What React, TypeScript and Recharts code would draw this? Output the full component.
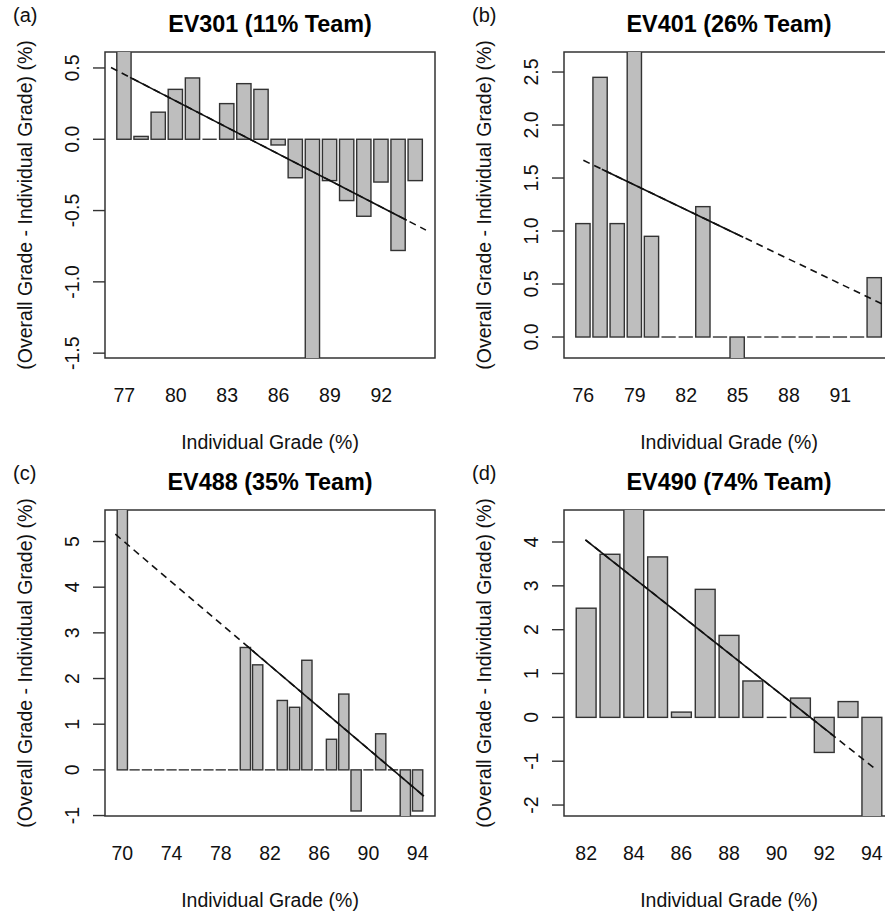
import { ComposedChart, Bar, XAxis, YAxis, ReferenceLine, ReferenceArea } from 'recharts';

// Grade categories and (overall - individual) differences
const gradesA = [77, 78, 79, 80, 81, 82, 83, 84, 85, 86, 87, 88, 89, 90, 91, 92, 93, 94];
const diffA = [0.75, 0.02, 0.19, 0.35, 0.43, 0, 0.25, 0.39, 0.35, -0.04, -0.27, -1.7, -0.29, -0.43, -0.54, -0.3, -0.78, -0.29];
const xTicksA = [77, 80, 83, 86, 89, 92];
const yTicksA = [-1.5, -1, -0.5, 0, 0.5];

const gradesB = [76, 77, 78, 79, 80, 81, 82, 83, 84, 85, 86, 87, 88, 89, 90, 91, 92, 93];
const diffB = [1.07, 2.45, 1.07, 2.9, 0.95, 0, 0, 1.23, 0, -0.3, 0, 0, 0, 0, 0, 0, 0, 0.56];
const xTicksB = [76, 79, 82, 85, 88, 91];
const yTicksB = [0, 0.5, 1, 1.5, 2, 2.5];

const gradesC = [70, 71, 72, 73, 74, 75, 76, 77, 78, 79, 80, 81, 82, 83, 84, 85, 86, 87, 88, 89, 90, 91, 92, 93, 94];
const diffC = [6, 0, 0, 0, 0, 0, 0, 0, 0, 0, 2.68, 2.3, 0, 1.52, 1.37, 2.4, 0, 0.67, 1.66, -0.9, 0, 0.79, 0, -1.1, -0.9];
const xTicksC = [70, 74, 78, 82, 86, 90, 94];
const yTicksC = [-1, 0, 1, 2, 3, 4, 5];

const gradesD = [82, 83, 84, 85, 86, 87, 88, 89, 90, 91, 92, 93, 94];
const diffD = [2.49, 3.72, 5, 3.66, 0.12, 2.92, 1.87, 0.83, 0, 0.44, -0.8, 0.36, -2.5];
const xTicksD = [82, 84, 86, 88, 90, 92, 94];
const yTicksD = [-2, -1, 0, 1, 2, 3, 4];

// fitted trend: [x start, y start, x end, y end], and the solid part [from, to]
const fitA = [76.22, 0.503, 94.6, -0.637];
const solidA = [77.33, 93.48];
const fitB = [76.0, 1.667, 93.9, 0.276];
const solidB = [77.08, 85.33];
const fitC = [69.43, 5.16, 94.51, -0.577];
const solidC = [80.13, 94.51];
const fitD = [81.97, 4.05, 94.11, -1.16];
const solidD = [81.97, 92.37];

const FONT = '"Liberation Sans", Arial, Helvetica, sans-serif';
const INK = '#111';
const EDGE = '#333';
const FILL = '#bebebe';

const PANEL_W = 442;
const PANEL_H = 455;
const BOX = { left: 105, right: 435, top: 52, bottom: 358 };

const BarShape = (p: any) => {
  const { x, y, width, height } = p;
  const h = Math.abs(height || 0);
  const top = height < 0 ? y + height : y;
  if (h < 0.5) {
    return <line x1={x} x2={x + width} y1={y} y2={y} stroke={EDGE} strokeWidth={1.4} />;
  }
  return <rect x={x} y={top} width={width} height={h} fill={FILL} stroke={EDGE} strokeWidth={1.4} />;
};

interface PanelProps {
  tag: string;
  title: string;
  grades: number[];
  diffs: number[];
  xTicks: number[];
  yTicks: number[];
  yDomain: [number, number];
  digits: number;
  fit: number[];
  solid: number[];
  left: number;
  top: number;
}

const Panel = ({ tag, title, grades, diffs, xTicks, yTicks, yDomain, digits, fit, solid, left, top }: PanelProps) => {
  const n = grades.length;
  const pad = (0.04 * (1.2 * n - 0.2) + 0.5) / 1.2;
  const lo = grades[0] - pad;
  const hi = grades[n - 1] + pad;
  const barSize = (BOX.right - BOX.left) / (hi - lo) / 1.2;
  const data = grades.map((g, i) => ({ grade: g, diff: diffs[i] }));
  const [x0, y0, x1, y1] = fit;
  const lineAt = (x: number) => y0 + ((y1 - y0) * (x - x0)) / (x1 - x0);
  const cx = (BOX.left + BOX.right) / 2;
  const cy = (BOX.top + BOX.bottom) / 2;
  const yLabX = BOX.left - 33;

  return (
    <div style={{ position: 'absolute', left, top, width: PANEL_W, height: PANEL_H }}>
      <ComposedChart
        width={PANEL_W}
        height={PANEL_H}
        data={data}
        margin={{ top: BOX.top, right: PANEL_W - BOX.right, bottom: PANEL_H - BOX.bottom - 40, left: BOX.left - 60 }}
      >
        <XAxis
          type="number"
          dataKey="grade"
          domain={[lo, hi]}
          ticks={xTicks}
          allowDataOverflow
          axisLine={false}
          tickLine={false}
          height={40}
          tick={(p: any) => (
            <text x={p.x} y={BOX.bottom + 37} textAnchor="middle" dominantBaseline="central" fontSize={19.5} fontFamily={FONT} fill={INK}>
              {p.payload.value}
            </text>
          )}
        />
        <YAxis
          type="number"
          domain={yDomain}
          ticks={yTicks}
          allowDataOverflow
          width={60}
          axisLine={false}
          tickLine={{ stroke: EDGE, strokeWidth: 1.4 }}
          tickSize={12}
          tick={(p: any) => (
            <text
              x={yLabX}
              y={p.y}
              transform={`rotate(-90 ${yLabX} ${p.y})`}
              textAnchor="middle"
              dominantBaseline="central"
              fontSize={19.5}
              fontFamily={FONT}
              fill={INK}
            >
              {Number(p.payload.value).toFixed(digits)}
            </text>
          )}
        />
        <Bar dataKey="diff" barSize={barSize} shape={BarShape} isAnimationActive={false} />
        <ReferenceLine
          segment={[{ x: x0, y: y0 }, { x: x1, y: y1 }]}
          stroke={INK}
          strokeWidth={1.6}
          strokeDasharray="7 5"
          ifOverflow="visible"
        />
        <ReferenceLine
          segment={[{ x: solid[0], y: lineAt(solid[0]) }, { x: solid[1], y: lineAt(solid[1]) }]}
          stroke={INK}
          strokeWidth={1.6}
          ifOverflow="visible"
        />
        <ReferenceArea
          x1={lo}
          x2={hi}
          y1={yDomain[0]}
          y2={yDomain[1]}
          fill="none"
          fillOpacity={0}
          stroke={EDGE}
          strokeWidth={1.5}
          ifOverflow="visible"
        />
      </ComposedChart>
      <svg width={PANEL_W} height={PANEL_H} style={{ position: 'absolute', left: 0, top: 0, pointerEvents: 'none' }}>
        <text x={13} y={15} dominantBaseline="central" fontSize={20} fontFamily={FONT} fill={INK}>
          {tag}
        </text>
        <text x={cx} y={23.5} textAnchor="middle" dominantBaseline="central" fontSize={23.4} fontWeight="bold" fontFamily={FONT} fill="#000">
          {title}
        </text>
        <text x={cx} y={441.5} textAnchor="middle" dominantBaseline="central" fontSize={19.5} fontFamily={FONT} fill={INK}>
          Individual Grade (%)
        </text>
        <text
          x={25}
          y={cy}
          transform={`rotate(-90 25 ${cy})`}
          textAnchor="middle"
          dominantBaseline="central"
          fontSize={19.5}
          fontFamily={FONT}
          fill={INK}
        >
          (Overall Grade - Individual Grade) (%)
        </text>
      </svg>
    </div>
  );
};

export default function App() {
  return (
    <div style={{ position: 'absolute', left: 0, top: 0, width: 885, height: 911, overflow: 'hidden', background: '#fff' }}>
      <Panel tag="(a)" title="EV301 (11% Team)" grades={gradesA} diffs={diffA} xTicks={xTicksA} yTicks={yTicksA}
        yDomain={[-1.534, 0.612]} digits={1} fit={fitA} solid={solidA} left={0} top={0} />
      <Panel tag="(b)" title="EV401 (26% Team)" grades={gradesB} diffs={diffB} xTicks={xTicksB} yTicks={yTicksB}
        yDomain={[-0.198, 2.689]} digits={1} fit={fitB} solid={solidB} left={458.7} top={0} />
      <Panel tag="(c)" title="EV488 (35% Team)" grades={gradesC} diffs={diffC} xTicks={xTicksC} yTicks={yTicksC}
        yDomain={[-1.01, 5.69]} digits={0} fit={fitC} solid={solidC} left={0} top={458} />
      <Panel tag="(d)" title="EV490 (74% Team)" grades={gradesD} diffs={diffD} xTicks={xTicksD} yTicks={yTicksD}
        yDomain={[-2.25, 4.73]} digits={0} fit={fitD} solid={solidD} left={458.7} top={458} />
    </div>
  );
}
